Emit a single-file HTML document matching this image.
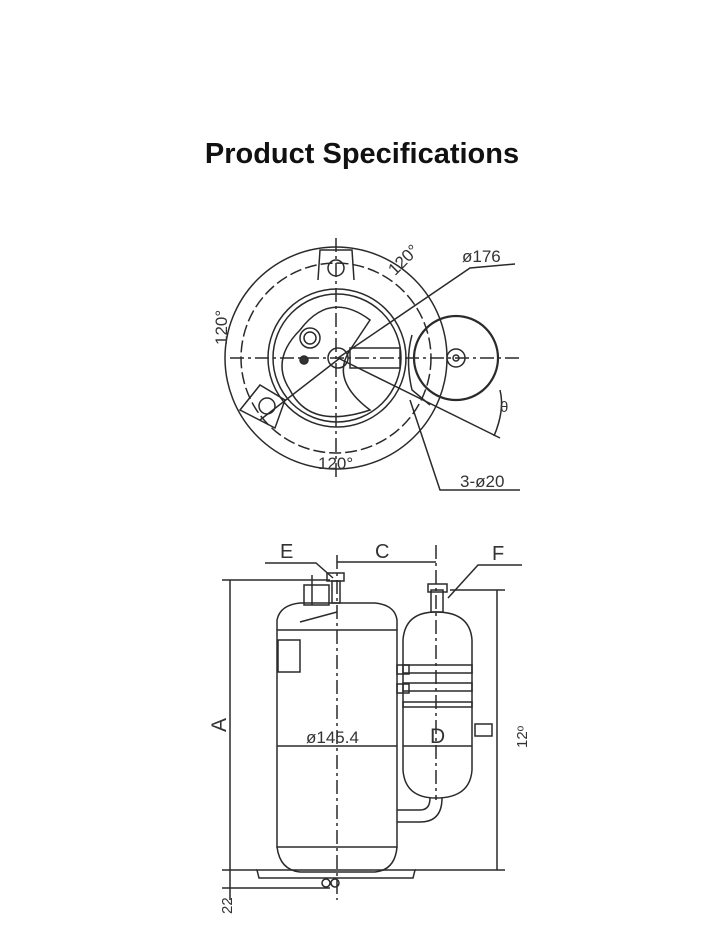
<!DOCTYPE html>
<html><head><style>
body{margin:0;background:#fff;width:728px;height:938px;overflow:hidden;font-family:"Liberation Sans",sans-serif}
h1{position:absolute;left:0;width:724px;top:138px;margin:0;text-align:center;font-size:29px;font-weight:bold;color:#111}
svg{position:absolute;left:0;top:0}
</style></head><body>
<h1>Product Specifications</h1>
<svg width="728" height="938" viewBox="0 0 728 938" fill="none" stroke="#2a2a2a" stroke-width="1.5" font-family="Liberation Sans, sans-serif">
<!-- top view -->
<circle cx="336" cy="358" r="111"/>
<circle cx="336" cy="358" r="95" stroke-dasharray="12 4"/>
<circle cx="337" cy="358" r="69"/>
<circle cx="337" cy="358" r="64"/>
<path d="M300 330 Q330 290 370 320 L350 350 Q330 380 370 410 Q310 430 290 390 Q270 360 300 330Z"/>
<circle cx="310" cy="338" r="10"/><circle cx="310" cy="338" r="6"/>
<circle cx="304" cy="360" r="4" fill="#333"/>
<circle cx="338" cy="358" r="10"/>
<rect x="350" y="348" width="50" height="20"/>
<path d="M318 280 L320 250 L352 250 L354 280"/><circle cx="336" cy="268" r="8"/>
<path d="M240 410 L260 385 L285 400 L275 428Z"/><circle cx="267" cy="406" r="8"/>
<circle cx="456" cy="358" r="42" stroke-width="2.2"/>
<circle cx="456" cy="358" r="9"/><circle cx="456" cy="358" r="3"/>
<path d="M412 335 Q405 360 412 390 L430 405"/>
<path d="M230 358 L520 358" stroke-dasharray="14 4 3 4"/>
<path d="M336 238 L336 480" stroke-dasharray="14 4 3 4"/>
<path d="M338 358 L470 268 L515 264"/>
<path d="M338 358 L500 438"/>
<path d="M260 420 L340 358"/>
<path d="M410 400 L440 490 L520 490"/>
<path d="M500 390 Q505 410 494 436"/>
<text x="462" y="262" font-size="17" fill="#333" stroke="none">ø176</text>
<text x="460" y="487" font-size="17" fill="#333" stroke="none">3-ø20</text>
<text x="318" y="469" font-size="17" fill="#333" stroke="none">120°</text>
<text x="385" y="268" font-size="17" fill="#333" stroke="none" transform="rotate(-45 400 260)">120°</text>
<text x="0" y="0" font-size="17" fill="#333" stroke="none" transform="translate(227 345) rotate(-90)">120°</text>
<text x="500" y="412" font-size="15" fill="#333" stroke="none">θ</text>
<!-- side view -->
<path d="M277 630 L277 620 Q280 605 300 603 L375 603 Q395 605 397 620 L397 630"/>
<rect x="277" y="630" width="120" height="217"/>
<path d="M277 847 Q280 870 300 872 L375 872 Q395 870 397 847"/>
<path d="M257 870 L415 870 L413 878 L259 878Z"/>
<rect x="278" y="640" width="22" height="32"/>
<rect x="304" y="585" width="25" height="20"/><path d="M312 575 L312 605"/>
<rect x="327" y="573" width="17" height="8"/><rect x="332" y="581" width="8" height="22"/>
<path d="M300 622 L337 612"/>
<circle cx="326" cy="883" r="4"/><circle cx="335" cy="883" r="4"/>
<path d="M403 640 Q405 612 436 612 Q470 612 472 640 L472 770 Q470 798 436 798 Q405 798 403 770Z"/>
<rect x="431" y="590" width="12" height="22"/><rect x="428" y="584" width="19" height="8"/>
<rect x="403" y="665" width="69" height="8"/><rect x="403" y="683" width="69" height="8"/><rect x="403" y="702" width="69" height="5"/>
<rect x="397" y="665" width="12" height="9"/><rect x="397" y="684" width="12" height="9"/>
<path d="M397 810 L420 810 Q430 810 430 798 M397 822 L420 822 Q442 822 442 798"/>
<path d="M337 555 L337 900" stroke-dasharray="14 4 3 4"/>
<path d="M436 545 L436 800" stroke-dasharray="14 4 3 4"/>
<path d="M337 562 L436 562"/>
<path d="M265 563 L316 563 L333 578"/>
<path d="M522 565 L478 565 L448 598"/>
<path d="M222 580 L330 580 M230 580 L230 900 M222 870 L257 870 M222 888 L330 888"/>
<path d="M450 590 L505 590 M497 590 L497 870 M415 870 L505 870"/>
<path d="M277 746 L397 746 M403 746 L472 746"/>
<rect x="475" y="724" width="17" height="12"/>
<text x="280" y="558" font-size="20" fill="#333" stroke="none">E</text>
<text x="375" y="558" font-size="20" fill="#333" stroke="none">C</text>
<text x="492" y="560" font-size="20" fill="#333" stroke="none">F</text>
<text x="306" y="743" font-size="17" fill="#333" stroke="none">ø145.4</text>
<text x="430" y="743" font-size="21" fill="#333" stroke="none">D</text>
<text x="0" y="0" font-size="21" fill="#333" stroke="none" transform="translate(226 732) rotate(-90)">A</text>
<text x="0" y="0" font-size="15" fill="#333" stroke="none" transform="translate(527 748) rotate(-90)">12ᵒ</text>
<text x="0" y="0" font-size="15" fill="#333" stroke="none" transform="translate(232 914) rotate(-90)">22</text>
</svg>
</body></html>
